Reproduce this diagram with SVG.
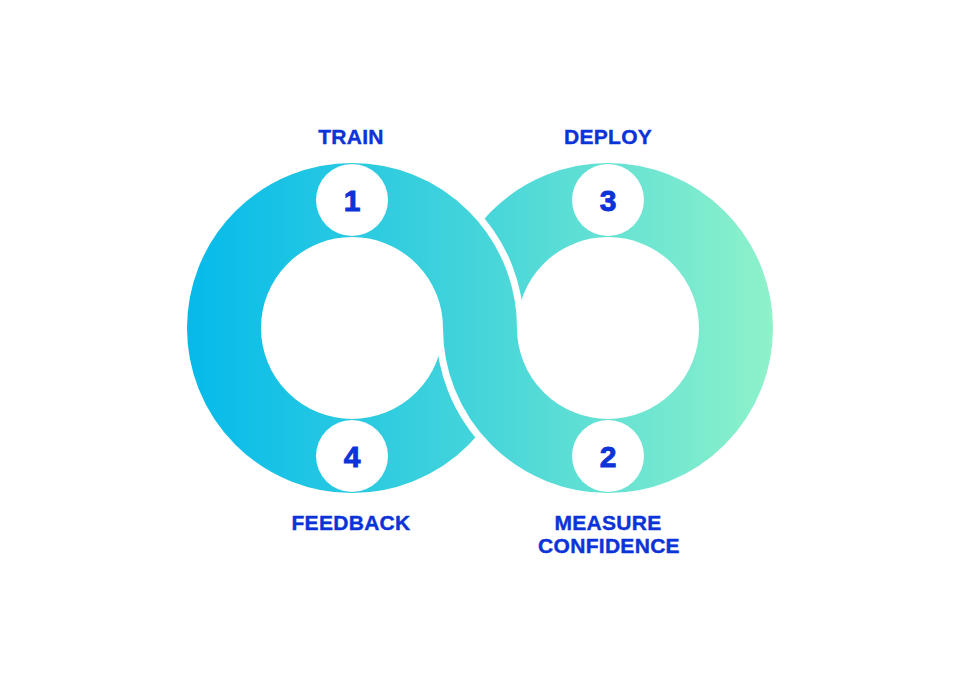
<svg xmlns="http://www.w3.org/2000/svg" width="960" height="681" viewBox="0 0 960 681">
  <defs>
    <linearGradient id="flow" gradientUnits="userSpaceOnUse" x1="188" y1="0" x2="772" y2="0">
      <stop offset="0" stop-color="#05baea"/>
      <stop offset="0.5" stop-color="#45d5da"/>
      <stop offset="1" stop-color="#8ef2ca"/>
    </linearGradient>
    <!-- upper crossing: left ring passes over -->
    <clipPath id="upperCross">
      <rect x="415" y="140" width="130" height="188"/>
    </clipPath>
    <!-- lower crossing: right ring passes over -->
    <clipPath id="lowerCross">
      <rect x="415" y="328" width="130" height="190"/>
    </clipPath>
  </defs>
  <style>
    .band { fill: none; stroke: url(#flow); stroke-width: 74; }
    .gap { fill: none; stroke: #ffffff; stroke-width: 88; }
    .badge { fill: #ffffff; }
    .num { font-family: "Liberation Sans", Arial, sans-serif; font-weight: 700; font-size: 30px; fill: #0b33d8; stroke: #0b33d8; stroke-width: 0.9; text-anchor: middle; }
    .label { font-family: "Liberation Sans", Arial, sans-serif; font-weight: 700; font-size: 21px; fill: #0b33d8; stroke: #0b33d8; stroke-width: 0.4; letter-spacing: 0.3px; text-anchor: middle; }
  </style>

  <rect width="960" height="681" fill="#ffffff"/>

  <!-- infinity loop built from two woven rings -->
  <g id="connectors">
    <circle class="band" cx="608" cy="328" r="128"/>
    <circle class="gap" cx="352" cy="328" r="128" clip-path="url(#upperCross)"/>
    <circle class="band" cx="352" cy="328" r="128"/>
    <g clip-path="url(#lowerCross)">
      <circle class="gap" cx="608" cy="328" r="128"/>
      <circle class="band" cx="608" cy="328" r="128"/>
    </g>
  </g>

  <g id="step-train">
    <circle class="badge" cx="352" cy="200" r="36"/>
    <text class="num" x="352" y="211">1</text>
    <text class="label" x="351" y="144">TRAIN</text>
  </g>

  <g id="step-measure">
    <circle class="badge" cx="608" cy="456" r="36"/>
    <text class="num" x="608" y="467">2</text>
    <text class="label" x="608" y="530">MEASURE</text>
    <text class="label" x="609" y="553">CONFIDENCE</text>
  </g>

  <g id="step-deploy">
    <circle class="badge" cx="608" cy="200" r="36"/>
    <text class="num" x="608" y="211">3</text>
    <text class="label" x="608" y="144">DEPLOY</text>
  </g>

  <g id="step-feedback">
    <circle class="badge" cx="352" cy="456" r="36"/>
    <text class="num" x="352" y="467">4</text>
    <text class="label" x="351" y="530">FEEDBACK</text>
  </g>
</svg>
